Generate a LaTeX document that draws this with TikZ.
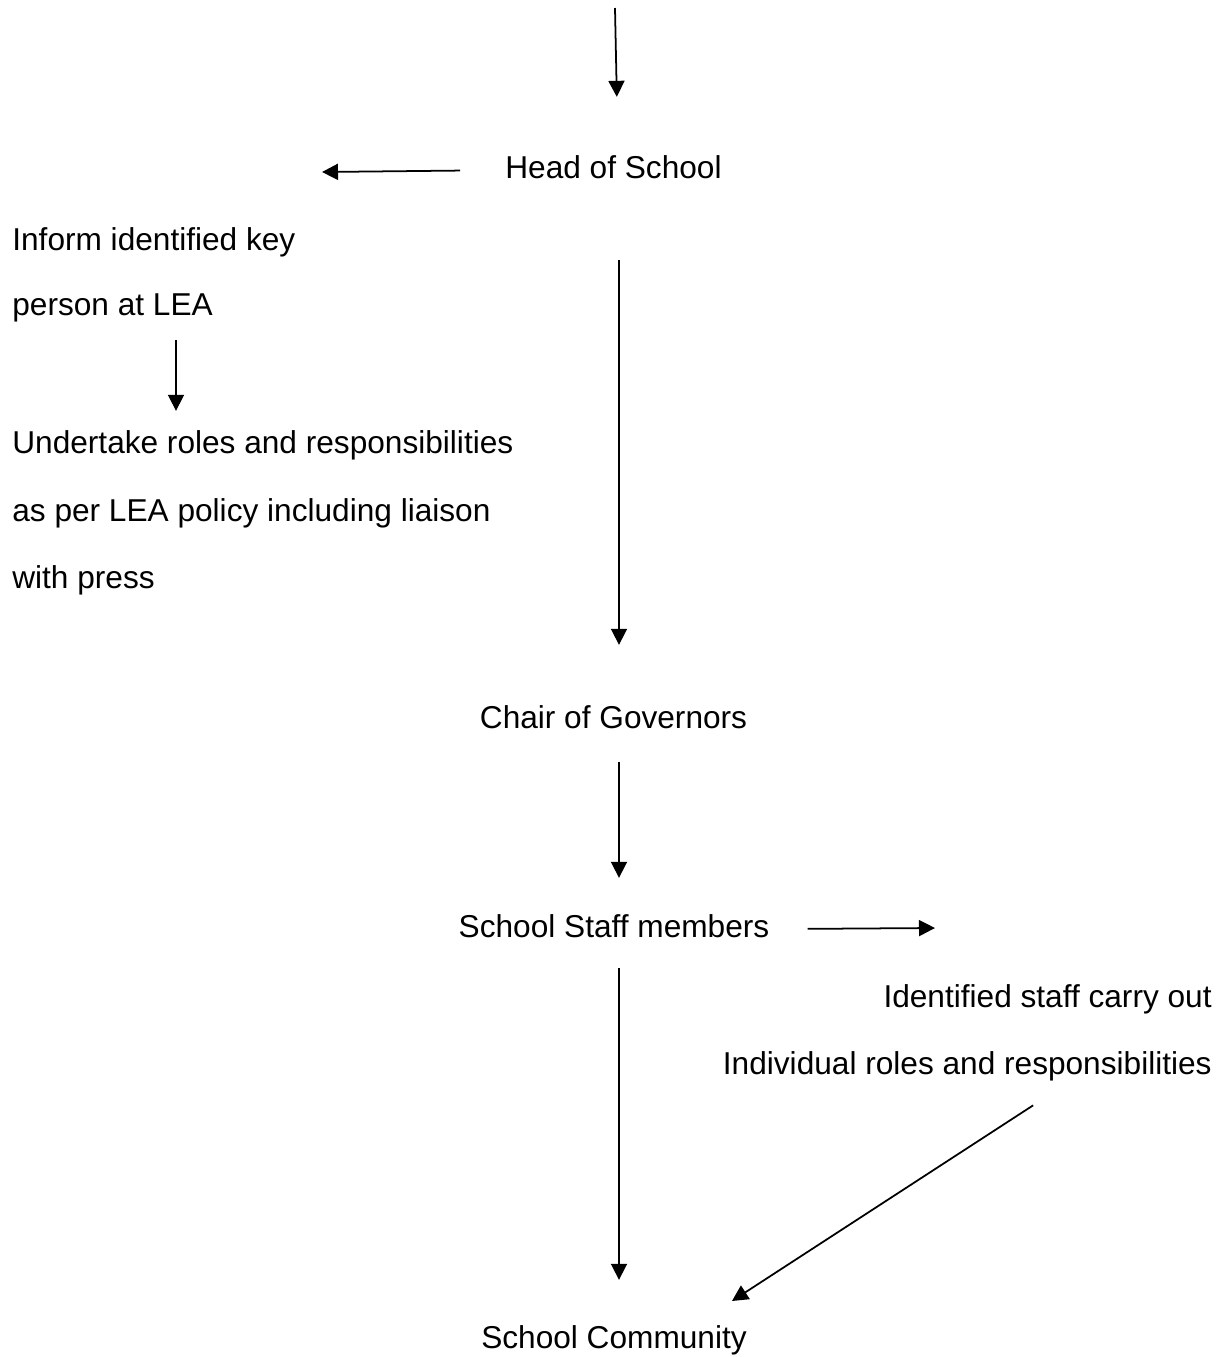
\documentclass[tikz,border=0pt]{standalone}
\usepackage{fontspec}
\setmainfont{Liberation Sans}
\usetikzlibrary{arrows.meta}

\begin{document}
\begin{tikzpicture}[x=0.02cm, y=-0.02cm,
        txt/.style={inner sep=0pt, text height=13pt, text depth=4pt, font=\fontsize{18}{22}\selectfont},
        arr/.style={-{Triangle[length=0.32cm,width=0.32cm]}, line width=1pt}]
                \useasboundingbox (0,0) rectangle (1228,1357);
                \node[txt, anchor=base] (hos) at (613.5,178) {Head of School};
                \node[txt, anchor=base west] (inform1) at (12,250) {Inform identified key};
                \node[txt, anchor=base west] (inform2) at (12,315) {person at LEA};
                \node[txt, anchor=base west] (roles1) at (12,453) {Undertake roles and responsibilities};
                \node[txt, anchor=base west] (roles2) at (12,521) {as per LEA policy including liaison};
                \node[txt, anchor=base west] (roles3) at (12,588) {with press};
                \node[txt, anchor=base] (chair) at (613.5,728) {Chair of Governors};
                \node[txt, anchor=base] (staff) at (614,937) {School Staff members};
                \node[txt, anchor=base east] (ident1) at (1212,1007) {Identified staff carry out};
                \node[txt, anchor=base east] (ident2) at (1212,1074) {Individual roles and responsibilities};
                \node[txt, anchor=base] (community) at (614,1348) {School Community};
                \coordinate (entry) at (615,8);
                \coordinate (spine) at (619,0);
                \coordinate (leadrop) at (176,0);
                \coordinate (diagstart) at (1070,0);
                \coordinate (headtip) at (322,172);
                \coordinate (stafftip) at (935,928);
                \coordinate (commtip) at (732,1301);
                \draw[arr, shorten >=1.16cm] (entry) -- ([xshift=0.09cm]hos.north);
                \draw[arr, shorten <=0.9cm] (hos.west) -- (headtip);
                \draw[arr, shorten <=0.36cm, shorten >=0.38cm] (inform2.south -| leadrop) -- (roles1.north -| leadrop);
                \draw[arr, shorten <=1.5cm, shorten >=1.2cm] (hos.south -| spine) -- (chair.north -| spine);
                \draw[arr, shorten <=0.54cm, shorten >=0.72cm] (chair.south -| spine) -- (staff.north -| spine);
                \draw[arr, shorten <=0.76cm] (staff.east) -- (stafftip);
                \draw[arr, shorten <=0.48cm, shorten >=0.9cm] (staff.south -| spine) -- (community.north -| spine);
                \draw[arr, shorten <=0.88cm] (ident2.south -| diagstart) -- (commtip);
            \end{tikzpicture}
\end{document}
